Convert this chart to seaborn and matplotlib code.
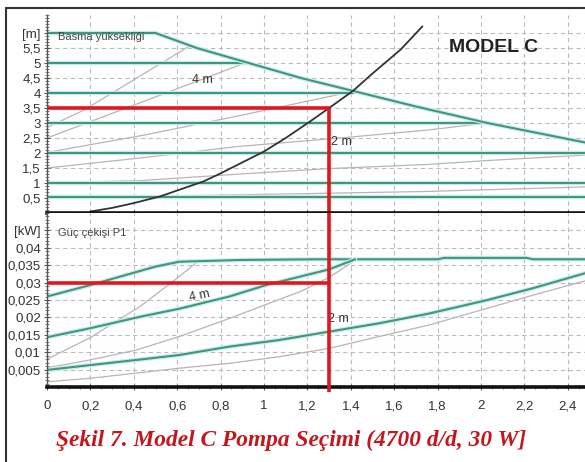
import matplotlib
matplotlib.use("Agg")
import matplotlib.pyplot as plt
import matplotlib.patheffects as pe
from matplotlib.lines import Line2D
from matplotlib.ticker import FixedLocator, MultipleLocator
import seaborn as sns

# ---------------- data ----------------
# upper panel: head [m] vs flow [m3/h]
sys_flow = [0.2, 0.3, 0.4, 0.52, 0.6, 0.72, 0.8, 0.89, 1.0, 1.1, 1.21, 1.3, 1.41, 1.5, 1.63, 1.73]
sys_head = [0.05, 0.17, 0.33, 0.55, 0.75, 1.05, 1.32, 1.65, 2.05, 2.5, 3.04, 3.5, 4.07, 4.65, 5.45, 6.22]

max_flow = [0, 0.5, 0.69, 0.92, 1.17, 1.41, 1.7, 2.03, 2.48]
max_head = [6.0, 6.0, 5.5, 5.02, 4.5, 4.07, 3.55, 3.0, 2.35]

const_levels = [5.0, 4.0, 3.0, 2.0, 1.0, 0.53]
const_end_flow = [0.92, 1.41, 2.03, 2.48, 2.48, 2.48]

prop_flows = [
    [0, 0.17, 0.66],
    [0, 0.34, 0.92],
    [0, 0.45, 0.89, 1.41],
    [0, 0.45, 0.87, 1.35, 1.76, 2.03],
    [0, 0.43, 0.89, 1.3, 1.76, 2.03, 2.48],
    [0, 0.84, 1.76, 2.48],
]
prop_heads = [
    [2.85, 3.43, 5.58],
    [2.5, 3.43, 5.02],
    [2.02, 2.6, 3.25, 4.05],
    [1.5, 1.85, 2.21, 2.5, 2.77, 3.0],
    [1.0, 1.08, 1.3, 1.48, 1.62, 1.75, 1.93],
    [0.5, 0.6, 0.72, 0.87],
]

# lower panel: power P1 [kW] vs flow
pmax_flow = [0, 0.2, 0.5, 0.61, 0.89, 1.24, 1.63, 1.8, 1.83, 2.21, 2.24, 2.48]
pmax_pow = [0.026, 0.0293, 0.0346, 0.036, 0.0365, 0.0367, 0.0367, 0.0367, 0.0371, 0.0371, 0.0367, 0.0367]

p4_flow = [0, 0.2, 0.43, 0.61, 0.84, 1.01, 1.3, 1.42]
p4_pow = [0.0143, 0.0169, 0.0202, 0.0225, 0.026, 0.0293, 0.0338, 0.0367]

p2_flow = [0, 0.2, 0.43, 0.61, 0.84, 1.07, 1.3, 1.53, 1.76, 2.03, 2.24, 2.48]
p2_pow = [0.0049, 0.0063, 0.0079, 0.0092, 0.0116, 0.0135, 0.0159, 0.0183, 0.0211, 0.025, 0.0284, 0.0327]

g_flows = [
    [0, 0.2, 0.43, 0.58, 0.69],
    [0, 0.2, 0.41, 0.61, 0.84, 1.17, 1.3, 1.41],
    [0, 0.2, 0.61, 0.84, 1.07, 1.3, 1.53, 1.76, 2.0, 2.24, 2.48],
]
g_pows = [
    [0.008, 0.0142, 0.0232, 0.0303, 0.0358],
    [0.0055, 0.0078, 0.0106, 0.0145, 0.0197, 0.0275, 0.0315, 0.036],
    [0.0015, 0.0025, 0.0054, 0.0068, 0.0087, 0.0111, 0.0145, 0.0178, 0.0221, 0.0264, 0.0305],
]

duty_flow = 1.3
duty_head = 3.5
duty_power = 0.03

x_ticks = [0, 0.2, 0.4, 0.6, 0.8, 1.0, 1.2, 1.4, 1.6, 1.8, 2.0, 2.2, 2.4]
x_labels = ["0", "0,2", "0,4", "0,6", "0,8", "1", "1,2", "1,4", "1,6", "1,8", "2", "2,2", "2,4"]
h_ticks = [0.5, 1, 1.5, 2, 2.5, 3, 3.5, 4, 4.5, 5, 5.5, 6]
h_labels = ["0,5", "1", "1,5", "2", "2,5", "3", "3,5", "4", "4,5", "5", "5,5", "[m]"]
p_ticks = [0.005, 0.01, 0.015, 0.02, 0.025, 0.03, 0.035, 0.04, 0.045]
p_labels = ["0,005", "0,01", "0,015", "0,02", "0,025", "0,03", "0,035", "0,04", "[kW]"]

# ---------------- style ----------------
sns.set_theme(style="white")
plt.rcParams["font.family"] = ["Liberation Sans", "DejaVu Sans"]

TEAL = "#3a9884"
HALO = "#d3ece6"
GRAY = "#bdb2b4"
RED = "#e3161d"
teal_fx = [pe.Stroke(linewidth=3.2, foreground=HALO), pe.Normal()]

W, H = 585, 462
fig = plt.figure(figsize=(W / 100, H / 100), dpi=100)
left = 47 / W
ax1 = fig.add_axes([left, (H - 213) / H, 1 - left, 198 / H])
ax2 = fig.add_axes([left, (H - 387) / H, 1 - left, 174 / H])

XMAX = (W - 47) / 217.0

def style_axes(ax, yt, yl, ymax, yminor, show_x):
    ax.set_xlim(0, XMAX)
    ax.set_ylim(0, ymax)
    ax.xaxis.set_major_locator(FixedLocator(x_ticks))
    ax.xaxis.set_minor_locator(MultipleLocator(0.05))
    ax.yaxis.set_major_locator(FixedLocator(yt))
    ax.yaxis.set_minor_locator(MultipleLocator(yminor))
    ax.set_yticklabels(yl)
    if show_x:
        ax.set_xticklabels(x_labels)
    else:
        ax.set_xticklabels([])
    ax.grid(True, which="major", color="#bcbcbc", linestyle=(0, (4, 3)), linewidth=0.8)
    ax.set_axisbelow(True)
    for s in ["top", "right"]:
        ax.spines[s].set_visible(False)
    ax.spines["left"].set_color("#555555")
    ax.spines["left"].set_linewidth(1.0)
    ax.spines["bottom"].set_color("#111111")
    ax.spines["bottom"].set_linewidth(2.6)
    ax.tick_params(axis="y", which="major", direction="inout", length=5, width=0.8,
                   color="#555555", labelsize=9.5, labelcolor="#333333", pad=2, left=True)
    ax.tick_params(axis="y", which="minor", direction="inout", length=3, width=0.6,
                   color="#666666", left=True)
    ax.tick_params(axis="x", which="major", direction="inout", length=5, width=0.8,
                   color="#555555", labelsize=9.5, labelcolor="#333333", pad=7, bottom=True)
    ax.tick_params(axis="x", which="minor", direction="inout", length=3, width=0.6,
                   color="#666666", bottom=True)
    ax.set_xlabel("")
    ax.set_ylabel("")

# ---------------- upper panel ----------------
for fl, hd in zip(prop_flows, prop_heads):
    sns.lineplot(x=fl, y=hd, ax=ax1, color=GRAY, linewidth=0.9, sort=False, estimator=None)
for lvl, xe in zip(const_levels, const_end_flow):
    sns.lineplot(x=[0, xe], y=[lvl, lvl], ax=ax1, color=TEAL, linewidth=1.5,
                 sort=False, estimator=None, path_effects=teal_fx)
sns.lineplot(x=max_flow, y=max_head, ax=ax1, color=TEAL, linewidth=1.5,
             sort=False, estimator=None, path_effects=teal_fx)
sns.lineplot(x=sys_flow, y=sys_head, ax=ax1, color="#333333", linewidth=1.3,
             sort=False, estimator=None)
ax1.plot([0, duty_flow], [duty_head, duty_head], color=RED, linewidth=2.6, solid_capstyle="butt")
ax1.plot([duty_flow, duty_flow], [0, duty_head], color=RED, linewidth=2.6, solid_capstyle="butt")

ax1.text(0.05, 5.87, "Basma yüksekliği", fontsize=8, color="#444444", va="center", ha="left")
ax1.text(0.67, 4.43, "4 m", fontsize=9, color="#333333", va="center", ha="left")
ax1.text(1.31, 2.37, "2 m", fontsize=9, color="#333333", va="center", ha="left")
ax1.text(2.06, 5.5, "MODEL C", fontsize=14, fontweight="bold", color="#222222",
         va="center", ha="center")
style_axes(ax1, h_ticks, h_labels, 6.6, 0.1, False)

# ---------------- lower panel ----------------
for fl, pw in zip(g_flows, g_pows):
    sns.lineplot(x=fl, y=pw, ax=ax2, color=GRAY, linewidth=0.9, sort=False, estimator=None)
for fl, pw in [(pmax_flow, pmax_pow), (p4_flow, p4_pow), (p2_flow, p2_pow)]:
    sns.lineplot(x=fl, y=pw, ax=ax2, color=TEAL, linewidth=1.5, sort=False,
                 estimator=None, path_effects=teal_fx)
ax2.plot([0, duty_flow], [duty_power, duty_power], color=RED, linewidth=2.6, solid_capstyle="butt")
ax2.plot([duty_flow, duty_flow], [-0.0015, 0.05], color=RED, linewidth=2.6,
         solid_capstyle="butt", clip_on=False, zorder=5)

ax2.text(0.05, 0.0443, "Güç çekişi P1", fontsize=8, color="#444444", va="center", ha="left")
ax2.text(0.65, 0.0262, "4 m", fontsize=9, color="#333333", va="center", ha="left", rotation=12)
ax2.text(1.295, 0.0195, "2 m", fontsize=9, color="#333333", va="center", ha="left")
style_axes(ax2, p_ticks, p_labels, 0.05, 0.001, True)

# ---------------- frame & caption ----------------
fig.add_artist(Line2D([5.5 / W, 5.5 / W], [0, (H - 8) / H], transform=fig.transFigure,
                      color="#333333", linewidth=1.5))
fig.add_artist(Line2D([5.5 / W, 1.0], [(H - 8) / H, (H - 8) / H], transform=fig.transFigure,
                      color="#333333", linewidth=1.5))
fig.text(0.497, (H - 440) / H, "Şekil 7. Model C Pompa Seçimi (4700 d/d, 30 W]",
         ha="center", va="center", color="#c4161c", fontsize=16.8, fontweight="bold",
         fontstyle="italic", family=["Liberation Serif", "DejaVu Serif"])

fig.savefig("out.png", dpi=100)
